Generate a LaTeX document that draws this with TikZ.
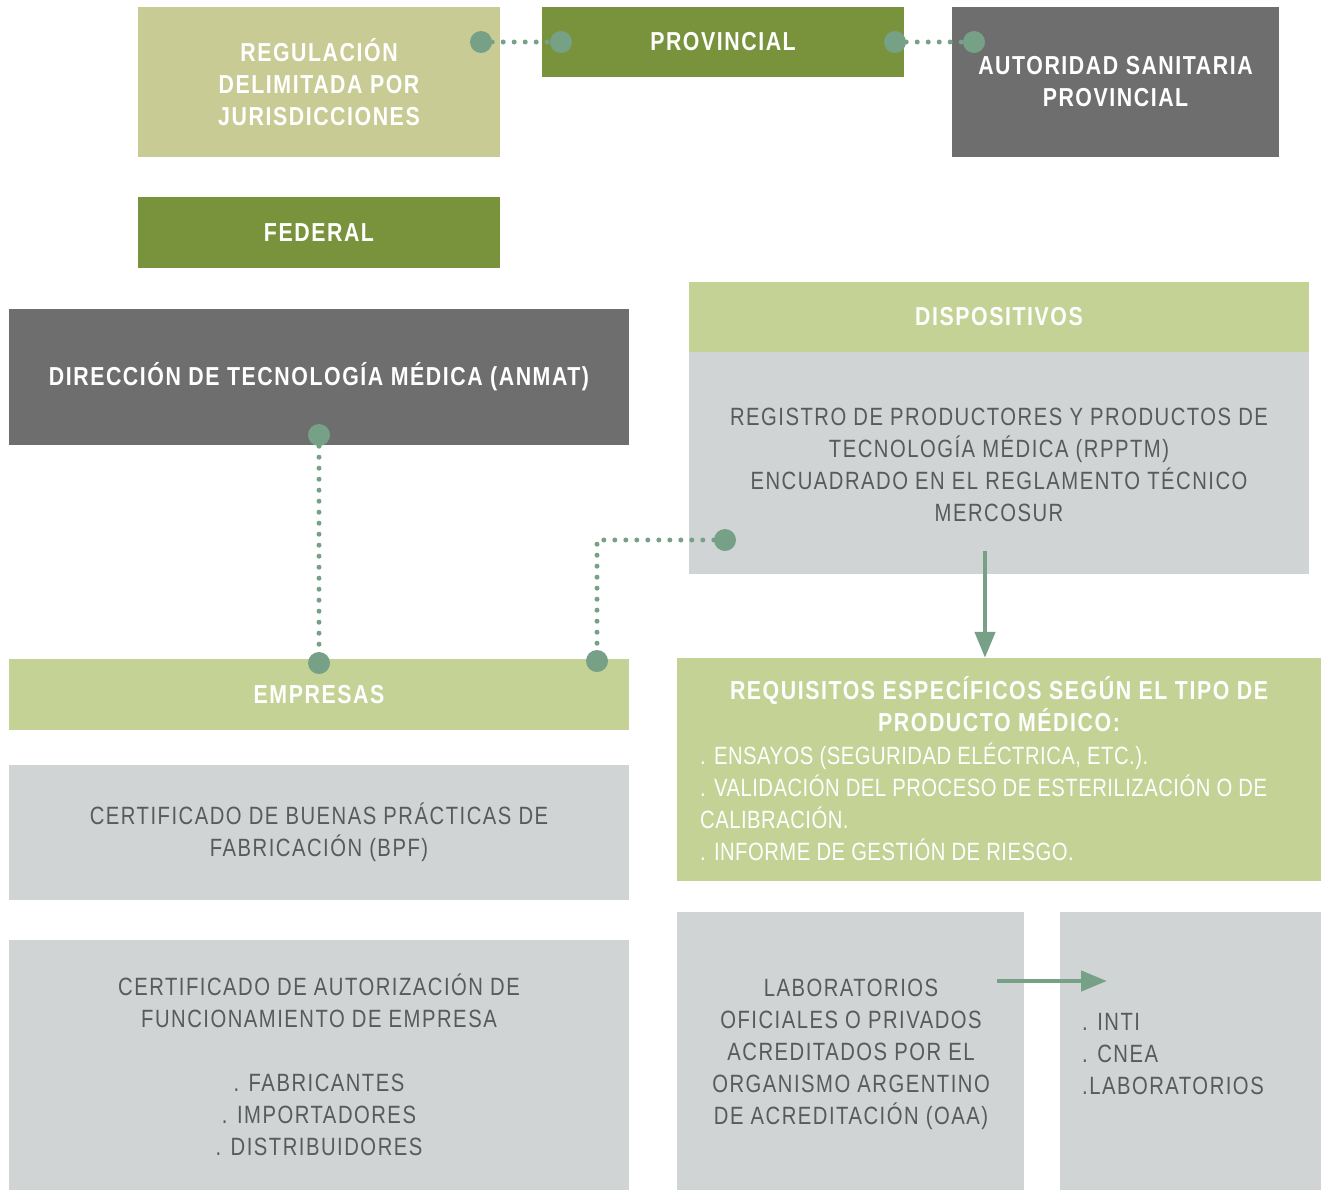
\documentclass[tikz,border=0pt]{standalone}
\usepackage{fontspec}
\setmainfont{Liberation Sans}[FakeStretch=0.81,LetterSpace=6,BoldFeatures={FakeStretch=0.82}]
\usetikzlibrary{arrows.meta}
\definecolor{olive}{HTML}{78933C}
\definecolor{khaki}{HTML}{C8CB94}
\definecolor{pale}{HTML}{C4D296}
\definecolor{slate}{HTML}{6E6E6E}
\definecolor{mist}{HTML}{D1D4D5}
\definecolor{sage}{HTML}{76A187}
\definecolor{ink}{HTML}{5A5A5A}

\begin{document}
\begin{tikzpicture}[x=1pt,y=-1pt,
   box/.style={inner sep=0pt,align=center},
   head/.style={box,text=white,font=\fontsize{26}{32}\selectfont\bfseries},
   body/.style={box,text=ink,font=\fontsize{25}{32}\selectfont},
   dot/.style={circle,fill=sage,inner sep=0pt,minimum size=22pt},
   dotline/.style={sage,line width=5pt,line cap=round,dash pattern=on 0pt off 11pt},
   arr/.style={sage,line width=4.5pt,-{Triangle[width=20pt,length=26pt]}},
   ]
   \useasboundingbox (0,0) rectangle (1324,1191);
   % top row
   \node[head,fill=khaki,minimum width=362pt,minimum height=150pt] (reg) at (319,82)
      {REGULACIÓN\\DELIMITADA POR\\JURISDICCIONES};
   \node[head,fill=olive,minimum width=362pt,minimum height=70pt] (prov) at (723,42) {PROVINCIAL};
   \node[head,fill=slate,minimum width=327pt,minimum height=150pt] (aut) at (1115.5,82)
      {AUTORIDAD SANITARIA\\PROVINCIAL};
   \node[head,fill=olive,minimum width=362pt,minimum height=71pt] (fed) at (319,232.5) {FEDERAL};
   % middle
   \node[head,fill=slate,minimum width=620pt,minimum height=136pt] (dir) at (319,377)
      {DIRECCIÓN DE TECNOLOGÍA MÉDICA (ANMAT)};
   \node[head,fill=pale,minimum width=620pt,minimum height=71pt] (disp) at (999,317) {DISPOSITIVOS};
   \node[body,fill=mist,minimum width=620pt,minimum height=222pt] (rpptm) at (999,463) {};
   \node[body] (rpptmtxt) at (999,465)
      {REGISTRO DE PRODUCTORES Y PRODUCTOS DE\\TECNOLOGÍA MÉDICA (RPPTM)\\ENCUADRADO EN EL REGLAMENTO TÉCNICO\\MERCOSUR};
   \node[head,fill=pale,minimum width=620pt,minimum height=71pt] (emp) at (319,694.5) {EMPRESAS};
   \node[box,fill=pale,minimum width=644pt,minimum height=223pt] (req) at (999,769.5) {};
   \node[head] (reqtit) at (999,704) {REQUISITOS ESPECÍFICOS SEGÚN EL TIPO DE\\PRODUCTO MÉDICO:};
   \node[box,text=white,font=\fontsize{25}{32}\selectfont\addfontfeatures{LetterSpace=2},align=left,anchor=north west] (reqlist) at (700,743)
      {. ENSAYOS (SEGURIDAD ELÉCTRICA, ETC.).\\. VALIDACIÓN DEL PROCESO DE ESTERILIZACIÓN O DE\\CALIBRACIÓN.\\. INFORME DE GESTIÓN DE RIESGO.};
   % bottom
   \node[body,fill=mist,minimum width=620pt,minimum height=135pt] (bpf) at (319,832.5)
      {CERTIFICADO DE BUENAS PRÁCTICAS DE\\FABRICACIÓN (BPF)};
   \node[body,fill=mist,minimum width=620pt,minimum height=250pt] (caf) at (319,1065)
      {CERTIFICADO DE AUTORIZACIÓN DE\\FUNCIONAMIENTO DE EMPRESA\\[32pt]. FABRICANTES\\. IMPORTADORES\\. DISTRIBUIDORES};
   \node[body,fill=mist,minimum width=347pt,minimum height=278pt] (lab) at (850.5,1051) {};
   \node[body] (labtxt) at (851,1054)
      {LABORATORIOS\\OFICIALES O PRIVADOS\\ACREDITADOS POR EL\\ORGANISMO ARGENTINO\\DE ACREDITACIÓN (OAA)};
   \node[body,fill=mist,minimum width=261pt,minimum height=278pt] (inti) at (1190.5,1051) {};
   \node[body,align=left,anchor=west] (intitxt) at (1082,1054) {. INTI\\. CNEA\\.LABORATORIOS};
   % dotted links
   \node[dot] (c1) at (481,42) {};
   \node[dot] (c2) at (561,42) {};
   \node[dot] (c3) at (895,42) {};
   \node[dot] (c4) at (974,42) {};
   \node[dot] (c5) at (319,435) {};
   \node[dot] (c6) at (319,663) {};
   \node[dot] (c7) at (725,540) {};
   \node[dot] (c8) at (597,661) {};
   \coordinate (bend) at (597,540);
   \draw[dotline] (c1) -- (c2);
   \draw[dotline] (c3) -- (c4);
   \draw[dotline] (c5) -- (c6);
   \draw[dotline] (c7) -- (bend) -- (c8);
   % arrows
   \coordinate (a1) at (985,551);
   \draw[arr] (a1) -- (a1 |- req.north);
   \coordinate (a2) at (997,981);
   \coordinate (a3) at (1107,981);
   \draw[arr] (a2) -- (a3);
\end{tikzpicture}
\end{document}
